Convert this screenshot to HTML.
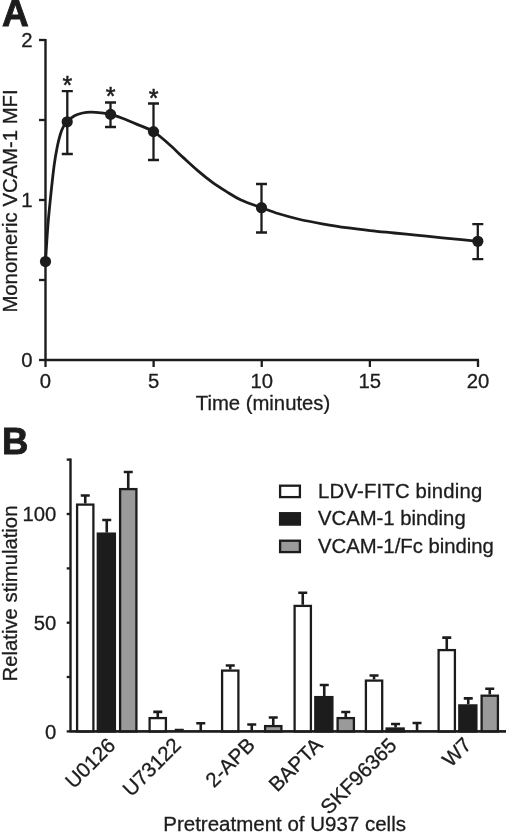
<!DOCTYPE html>
<html><head><meta charset="utf-8"><title>Figure</title>
<style>
html,body{margin:0;padding:0;background:#fff;}
body{width:520px;height:839px;overflow:hidden;font-family:"Liberation Sans",sans-serif;}
svg{display:block;}
</style></head><body>
<svg width="520" height="839" viewBox="0 0 520 839">
<defs><filter id="soft" x="0" y="0" width="520" height="839" filterUnits="userSpaceOnUse"><feGaussianBlur stdDeviation="0.45"/></filter></defs>
<rect width="520" height="839" fill="#ffffff"/>
<g filter="url(#soft)">
<path d="M45.5,39 V360.0 H479" fill="none" stroke="#1c1c1c" stroke-width="2.4"/>
<path d="M39,40 H45.5" stroke="#1c1c1c" stroke-width="2.3"/>
<path d="M39,120 H45.5" stroke="#1c1c1c" stroke-width="2.3"/>
<path d="M39,200 H45.5" stroke="#1c1c1c" stroke-width="2.3"/>
<path d="M39,280 H45.5" stroke="#1c1c1c" stroke-width="2.3"/>
<path d="M39,360 H45.5" stroke="#1c1c1c" stroke-width="2.3"/>
<path d="M45.5,360.0 V367" stroke="#1c1c1c" stroke-width="2.3"/>
<path d="M153.625,360.0 V367" stroke="#1c1c1c" stroke-width="2.3"/>
<path d="M261.75,360.0 V367" stroke="#1c1c1c" stroke-width="2.3"/>
<path d="M369.875,360.0 V367" stroke="#1c1c1c" stroke-width="2.3"/>
<path d="M478.0,360.0 V367" stroke="#1c1c1c" stroke-width="2.3"/>
<path d="M45.5,261.5 C46.0,254.8 47.2,233.3 48.2,221.6 C49.2,209.9 50.2,200.6 51.2,191.2 C52.2,181.8 53.2,172.3 54.2,164.9 C55.2,157.5 56.3,151.7 57.3,146.6 C58.3,141.5 59.3,137.8 60.3,134.5 C61.3,131.2 62.2,128.8 63.4,126.6 C64.5,124.4 65.4,123.4 67.2,121.6 C69.0,119.8 71.9,117.2 74.5,115.8 C77.1,114.4 79.9,113.6 82.6,113 C85.3,112.4 87.7,112.2 90.7,112.2 C93.8,112.2 97.6,112.4 100.9,112.8 C104.2,113.2 107.0,113.5 110.6,114.4 C114.2,115.3 117.8,116.6 122.3,118.3 C126.8,120.0 132.5,122.4 137.7,124.6 C142.9,126.8 148.3,128.4 153.5,131.6 C158.7,134.8 163.8,139.7 168.8,144 C173.8,148.3 178.5,153.2 183.3,157.6 C188.1,162.0 192.9,166.5 197.7,170.6 C202.5,174.7 207.3,178.6 212.1,182.1 C216.9,185.6 221.7,188.6 226.5,191.6 C231.3,194.6 235.2,197.3 241,200 C246.8,202.7 255.2,205.4 261.5,207.7 C267.8,210.0 272.7,211.9 278.8,213.75 C284.9,215.6 290.8,217.3 298,219 C305.2,220.7 314.1,222.4 322.1,223.8 C330.1,225.2 338.2,226.6 346.2,227.7 C354.2,228.8 362.2,229.7 370.2,230.6 C378.2,231.5 386.2,232.2 394.2,233 C402.2,233.8 410.3,234.6 418.3,235.4 C426.3,236.2 435.1,237.1 442.3,237.8 C449.5,238.5 455.6,239.1 461.5,239.7 C467.4,240.3 475.1,241.0 477.8,241.3" fill="none" stroke="#1c1c1c" stroke-width="2.8" stroke-linecap="round"/>
<path d="M67.3,91.2 V154 M61.8,91.2 H72.8 M61.8,154 H72.8" fill="none" stroke="#1c1c1c" stroke-width="2.3"/>
<path d="M110.5,102.5 V127 M105.0,102.5 H116.0 M105.0,127 H116.0" fill="none" stroke="#1c1c1c" stroke-width="2.3"/>
<path d="M153.5,103.5 V160 M148.0,103.5 H159.0 M148.0,160 H159.0" fill="none" stroke="#1c1c1c" stroke-width="2.3"/>
<path d="M261.5,184 V232.5 M256.0,184 H267.0 M256.0,232.5 H267.0" fill="none" stroke="#1c1c1c" stroke-width="2.3"/>
<path d="M477.8,224.1 V259.1 M472.3,224.1 H483.3 M472.3,259.1 H483.3" fill="none" stroke="#1c1c1c" stroke-width="2.3"/>
<circle cx="45.5" cy="261.5" r="5.6" fill="#1c1c1c"/>
<circle cx="67.2" cy="121.8" r="5.6" fill="#1c1c1c"/>
<circle cx="110.6" cy="114.4" r="5.6" fill="#1c1c1c"/>
<circle cx="153.5" cy="131.6" r="5.6" fill="#1c1c1c"/>
<circle cx="261.5" cy="207.7" r="5.6" fill="#1c1c1c"/>
<circle cx="477.8" cy="241.3" r="5.6" fill="#1c1c1c"/>
<text x="67.3" y="94.2" font-family="Liberation Sans, sans-serif" font-size="25" text-anchor="middle" fill="#1c1c1c" stroke="#1c1c1c" stroke-width="0.5">*</text>
<text x="110.5" y="105.2" font-family="Liberation Sans, sans-serif" font-size="25" text-anchor="middle" fill="#1c1c1c" stroke="#1c1c1c" stroke-width="0.5">*</text>
<text x="153.6" y="107.3" font-family="Liberation Sans, sans-serif" font-size="25" text-anchor="middle" fill="#1c1c1c" stroke="#1c1c1c" stroke-width="0.5">*</text>
<text x="2.0" y="26.1" font-family="Liberation Sans, sans-serif" font-size="37" font-weight="bold" stroke="#1c1c1c" stroke-width="0.9" fill="#1c1c1c">A</text>
<text x="32.5" y="47.4" font-family="Liberation Sans, sans-serif" font-size="20.3" stroke="#1c1c1c" stroke-width="0.3" text-anchor="end" fill="#1c1c1c">2</text>
<text x="32.5" y="207.4" font-family="Liberation Sans, sans-serif" font-size="20.3" stroke="#1c1c1c" stroke-width="0.3" text-anchor="end" fill="#1c1c1c">1</text>
<text x="32.5" y="367.4" font-family="Liberation Sans, sans-serif" font-size="20.3" stroke="#1c1c1c" stroke-width="0.3" text-anchor="end" fill="#1c1c1c">0</text>
<text x="45.5" y="388" font-family="Liberation Sans, sans-serif" font-size="20.3" stroke="#1c1c1c" stroke-width="0.3" text-anchor="middle" fill="#1c1c1c">0</text>
<text x="153.625" y="388" font-family="Liberation Sans, sans-serif" font-size="20.3" stroke="#1c1c1c" stroke-width="0.3" text-anchor="middle" fill="#1c1c1c">5</text>
<text x="261.75" y="388" font-family="Liberation Sans, sans-serif" font-size="20.3" stroke="#1c1c1c" stroke-width="0.3" text-anchor="middle" fill="#1c1c1c">10</text>
<text x="369.875" y="388" font-family="Liberation Sans, sans-serif" font-size="20.3" stroke="#1c1c1c" stroke-width="0.3" text-anchor="middle" fill="#1c1c1c">15</text>
<text x="478.0" y="388" font-family="Liberation Sans, sans-serif" font-size="20.3" stroke="#1c1c1c" stroke-width="0.3" text-anchor="middle" fill="#1c1c1c">20</text>
<text x="263" y="409.5" font-family="Liberation Sans, sans-serif" font-size="20.3" stroke="#1c1c1c" stroke-width="0.3" text-anchor="middle" fill="#1c1c1c">Time (minutes)</text>
<text transform="translate(17.2,201) rotate(-90)" font-family="Liberation Sans, sans-serif" font-size="20.3" stroke="#1c1c1c" stroke-width="0.3" text-anchor="middle" fill="#1c1c1c">Monomeric VCAM-1 MFI</text>
<path d="M70.5,458.5 V731.4 H506" fill="none" stroke="#1c1c1c" stroke-width="2.4"/>
<path d="M66.7,731.4 H70.5" stroke="#1c1c1c" stroke-width="2.3"/>
<path d="M66.7,677.0 H70.5" stroke="#1c1c1c" stroke-width="2.3"/>
<path d="M66.7,622.7 H70.5" stroke="#1c1c1c" stroke-width="2.3"/>
<path d="M66.7,568.4 H70.5" stroke="#1c1c1c" stroke-width="2.3"/>
<path d="M66.7,514.0 H70.5" stroke="#1c1c1c" stroke-width="2.3"/>
<path d="M66.7,459.6 H70.5" stroke="#1c1c1c" stroke-width="2.3"/>
<path d="M85.25,495.5 V503.5 M80.75,495.5 H89.75" fill="none" stroke="#1c1c1c" stroke-width="2.6"/>
<rect x="77.1" y="504.6" width="16.3" height="226.90" fill="#ffffff" stroke="#1c1c1c" stroke-width="2.3"/>
<path d="M106.75,520 V532.5 M102.25,520 H111.25" fill="none" stroke="#1c1c1c" stroke-width="2.6"/>
<rect x="97.8" y="533.6" width="17.1" height="197.90" fill="#1c1c1c" stroke="#1c1c1c" stroke-width="2.3"/>
<path d="M128.25,472 V488 M123.75,472 H132.75" fill="none" stroke="#1c1c1c" stroke-width="2.6"/>
<rect x="120.1" y="489.1" width="16.3" height="242.40" fill="#9a9a9a" stroke="#1c1c1c" stroke-width="2.3"/>
<path d="M157.75,711.9 V717 M153.25,711.9 H162.25" fill="none" stroke="#1c1c1c" stroke-width="2.6"/>
<rect x="149.6" y="718.1" width="16.3" height="13.40" fill="#ffffff" stroke="#1c1c1c" stroke-width="2.3"/>
<path d="M179.25,730.0 V731.4 M174.75,730.0 H183.75" fill="none" stroke="#1c1c1c" stroke-width="2.6"/>
<path d="M200.75,723.3 V731.4 M196.25,723.3 H205.25" fill="none" stroke="#1c1c1c" stroke-width="2.6"/>
<path d="M230.25,665.5 V669.5 M225.75,665.5 H234.75" fill="none" stroke="#1c1c1c" stroke-width="2.6"/>
<rect x="222.1" y="670.6" width="16.3" height="60.90" fill="#ffffff" stroke="#1c1c1c" stroke-width="2.3"/>
<path d="M251.75,724.5 V731.4 M247.25,724.5 H256.25" fill="none" stroke="#1c1c1c" stroke-width="2.6"/>
<path d="M273.25,717.5 V725 M268.75,717.5 H277.75" fill="none" stroke="#1c1c1c" stroke-width="2.6"/>
<rect x="265.1" y="726.1" width="16.3" height="5.40" fill="#9a9a9a" stroke="#1c1c1c" stroke-width="2.3"/>
<path d="M302.75,592.8 V604.8 M298.25,592.8 H307.25" fill="none" stroke="#1c1c1c" stroke-width="2.6"/>
<rect x="294.6" y="605.9" width="16.3" height="125.60" fill="#ffffff" stroke="#1c1c1c" stroke-width="2.3"/>
<path d="M324.25,685 V696 M319.75,685 H328.75" fill="none" stroke="#1c1c1c" stroke-width="2.6"/>
<rect x="315.3" y="697.1" width="17.1" height="34.40" fill="#1c1c1c" stroke="#1c1c1c" stroke-width="2.3"/>
<path d="M345.75,712 V717 M341.25,712 H350.25" fill="none" stroke="#1c1c1c" stroke-width="2.6"/>
<rect x="337.6" y="718.1" width="16.3" height="13.40" fill="#9a9a9a" stroke="#1c1c1c" stroke-width="2.3"/>
<path d="M374.05,675.5 V679.5 M369.55,675.5 H378.55" fill="none" stroke="#1c1c1c" stroke-width="2.6"/>
<rect x="365.90000000000003" y="680.6" width="16.3" height="50.90" fill="#ffffff" stroke="#1c1c1c" stroke-width="2.3"/>
<path d="M395.55,724.0 V727.4 M391.05,724.0 H400.05" fill="none" stroke="#1c1c1c" stroke-width="2.6"/>
<rect x="386.6" y="728.5" width="17.1" height="3.00" fill="#1c1c1c" stroke="#1c1c1c" stroke-width="2.3"/>
<path d="M417.05,723.0 V731.4 M412.55,723.0 H421.55" fill="none" stroke="#1c1c1c" stroke-width="2.6"/>
<path d="M446.75,637.6 V649.0 M442.25,637.6 H451.25" fill="none" stroke="#1c1c1c" stroke-width="2.6"/>
<rect x="438.6" y="650.1" width="16.3" height="81.40" fill="#ffffff" stroke="#1c1c1c" stroke-width="2.3"/>
<path d="M468.25,698.4 V704.3 M463.75,698.4 H472.75" fill="none" stroke="#1c1c1c" stroke-width="2.6"/>
<rect x="459.3" y="705.4" width="17.1" height="26.10" fill="#1c1c1c" stroke="#1c1c1c" stroke-width="2.3"/>
<path d="M489.75,688.8 V694.6 M485.25,688.8 H494.25" fill="none" stroke="#1c1c1c" stroke-width="2.6"/>
<rect x="481.6" y="695.7" width="16.3" height="35.80" fill="#9a9a9a" stroke="#1c1c1c" stroke-width="2.3"/>
<path d="M70.5,731.4 H506" fill="none" stroke="#1c1c1c" stroke-width="2.4"/>
<rect x="280.1" y="485.7" width="19.8" height="11.4" fill="#ffffff" stroke="#1c1c1c" stroke-width="2.3"/>
<text x="318" y="497.8" textLength="164.2" lengthAdjust="spacing" font-family="Liberation Sans, sans-serif" font-size="20.3" stroke="#1c1c1c" stroke-width="0.3" fill="#1c1c1c">LDV-FITC binding</text>
<rect x="280.1" y="513.2" width="19.8" height="11.4" fill="#1c1c1c" stroke="#1c1c1c" stroke-width="2.3"/>
<text x="318" y="525.3" font-family="Liberation Sans, sans-serif" font-size="20.3" stroke="#1c1c1c" stroke-width="0.3" fill="#1c1c1c">VCAM-1 binding</text>
<rect x="280.1" y="540.7" width="19.8" height="11.4" fill="#9a9a9a" stroke="#1c1c1c" stroke-width="2.3"/>
<text x="318" y="552.8" font-family="Liberation Sans, sans-serif" font-size="20.3" stroke="#1c1c1c" stroke-width="0.3" fill="#1c1c1c">VCAM-1/Fc binding</text>
<text x="2.0" y="454" font-family="Liberation Sans, sans-serif" font-size="36.5" font-weight="bold" stroke="#1c1c1c" stroke-width="0.9" fill="#1c1c1c">B</text>
<text x="56.3" y="738.6" font-family="Liberation Sans, sans-serif" font-size="20.3" stroke="#1c1c1c" stroke-width="0.3" text-anchor="end" fill="#1c1c1c">0</text>
<text x="56.3" y="629.9" font-family="Liberation Sans, sans-serif" font-size="20.3" stroke="#1c1c1c" stroke-width="0.3" text-anchor="end" fill="#1c1c1c">50</text>
<text x="56.3" y="521.2" font-family="Liberation Sans, sans-serif" font-size="20.3" stroke="#1c1c1c" stroke-width="0.3" text-anchor="end" fill="#1c1c1c">100</text>
<text transform="translate(16.5,593.5) rotate(-90)" font-family="Liberation Sans, sans-serif" font-size="20.3" stroke="#1c1c1c" stroke-width="0.3" text-anchor="middle" fill="#1c1c1c">Relative stimulation</text>
<text transform="translate(116.70,746.60) rotate(-45)" font-family="Liberation Sans, sans-serif" font-size="20.6" stroke="#1c1c1c" stroke-width="0.3" text-anchor="end" fill="#1c1c1c">U0126</text>
<text transform="translate(182.20,746.40) rotate(-45)" font-family="Liberation Sans, sans-serif" font-size="20.6" stroke="#1c1c1c" stroke-width="0.3" text-anchor="end" fill="#1c1c1c">U73122</text>
<text transform="translate(256.20,746.30) rotate(-45)" font-family="Liberation Sans, sans-serif" font-size="20.6" stroke="#1c1c1c" stroke-width="0.3" text-anchor="end" fill="#1c1c1c">2-APB</text>
<text transform="translate(323.80,746.20) rotate(-45)" font-family="Liberation Sans, sans-serif" font-size="20.6" stroke="#1c1c1c" stroke-width="0.3" text-anchor="end" fill="#1c1c1c">BAPTA</text>
<text transform="translate(397.80,746.70) rotate(-45)" font-family="Liberation Sans, sans-serif" font-size="20.6" stroke="#1c1c1c" stroke-width="0.3" text-anchor="end" fill="#1c1c1c">SKF96365</text>
<text transform="translate(472.55,746.10) rotate(-45)" font-family="Liberation Sans, sans-serif" font-size="20.6" stroke="#1c1c1c" stroke-width="0.3" text-anchor="end" fill="#1c1c1c">W7</text>
<text x="284.6" y="831.2" font-family="Liberation Sans, sans-serif" font-size="20.5" stroke="#1c1c1c" stroke-width="0.3" text-anchor="middle" fill="#1c1c1c">Pretreatment of U937 cells</text>
</g>
</svg>
</body></html>
